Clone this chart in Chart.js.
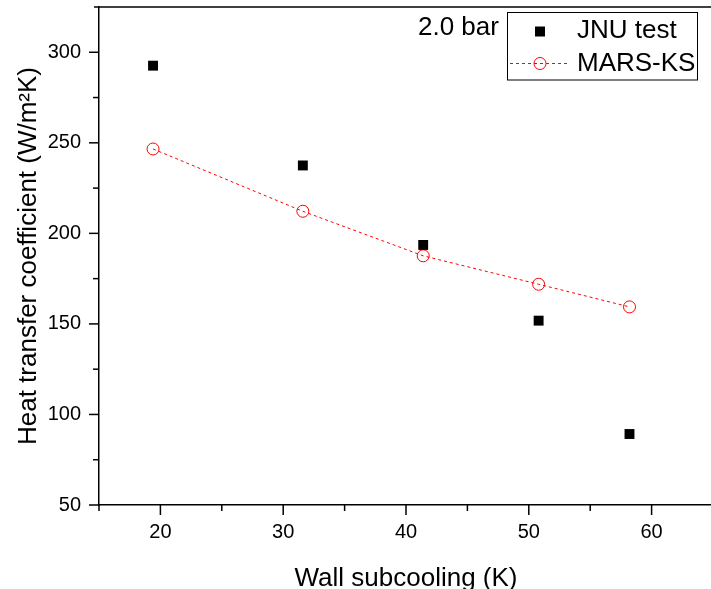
<!DOCTYPE html>
<html lang="en">
<head>
    <meta charset="UTF-8">
    <title>Heat transfer coefficient vs wall subcooling</title>
    <script src="https://cdn.jsdelivr.net/npm/chart.js"></script>
    <style>
        html, body { margin: 0; padding: 0; background: #fff; overflow: hidden; }
        .chart-box { position: relative; width: 720px; height: 610px; }
    </style>
</head>
<body>
    <div class="chart-box">
        <canvas id="htc-chart"></canvas>
    </div>

    <script>
        // values
        const subcooling = [19.4, 31.6, 41.4, 50.8, 58.2];
        const jnuTest = [292.6, 237.5, 193.6, 151.8, 89.2];
        const marsKs = [246.6, 212.2, 187.6, 171.9, 159.4];

        const xLabels = [20, 30, 40, 50, 60];
        const yLabels = [50, 100, 150, 200, 250, 300];

        const FONT = 'Arial, "Liberation Sans", sans-serif';

        // major/minor tick marks, top frame line, "2.0 bar" note and the boxed legend
        const framePlugin = {
            id: 'frame',
            afterDraw(chart) {
                const ctx = chart.ctx;
                const area = chart.chartArea;
                const xs = chart.scales.x;
                const ys = chart.scales.y;
                ctx.save();
                ctx.strokeStyle = '#000';
                ctx.lineWidth = 1.5;

                xs.ticks.forEach(t => {
                    const px = xs.getPixelForValue(t.value);
                    const len = xLabels.includes(t.value) ? 10 : 6;
                    ctx.beginPath();
                    ctx.moveTo(px, area.bottom);
                    ctx.lineTo(px, area.bottom + len);
                    ctx.stroke();
                });
                ys.ticks.forEach(t => {
                    if (t.value >= ys.max) return;
                    const py = ys.getPixelForValue(t.value);
                    const len = yLabels.includes(t.value) ? 10 : 6;
                    ctx.beginPath();
                    ctx.moveTo(area.left, py);
                    ctx.lineTo(area.left - len, py);
                    ctx.stroke();
                });

                // top frame
                ctx.beginPath();
                ctx.moveTo(area.left - 5, area.top);
                ctx.lineTo(area.right, area.top);
                ctx.stroke();

                ctx.fillStyle = '#000';
                ctx.font = '26px ' + FONT;
                ctx.textBaseline = 'middle';
                ctx.textAlign = 'left';
                ctx.fillText('2.0 bar', 418, 28);

                // legend
                ctx.lineWidth = 1;
                ctx.strokeRect(507.5, 12.5, 190, 67.5);
                const ds = chart.data.datasets;

                ctx.fillRect(535, 26.5, 10, 10);
                ctx.fillText(ds[0].label, 577, 31);

                ctx.strokeStyle = 'red';
                ctx.setLineDash([3, 3]);
                ctx.beginPath();
                ctx.moveTo(510, 63.5);
                ctx.lineTo(567, 63.5);
                ctx.stroke();
                ctx.setLineDash([]);
                ctx.beginPath();
                ctx.arc(540, 63.5, 6, 0, Math.PI * 2);
                ctx.stroke();
                ctx.fillText(ds[1].label, 577, 64);

                ctx.restore();
            }
        };

        const ctx = document.getElementById('htc-chart').getContext('2d');
        new Chart(ctx, {
            type: 'scatter',
            data: {
                datasets: [
                    {
                        label: 'JNU test',
                        data: subcooling.map((x, i) => ({ x: x, y: jnuTest[i] })),
                        pointStyle: 'rect',
                        pointRadius: 7,
                        backgroundColor: '#000',
                        borderColor: '#000',
                        borderWidth: 0,
                        showLine: false
                    },
                    {
                        label: 'MARS-KS',
                        data: subcooling.map((x, i) => ({ x: x, y: marsKs[i] })),
                        pointStyle: 'circle',
                        pointRadius: 6,
                        backgroundColor: 'rgba(0,0,0,0)',
                        borderColor: 'red',
                        borderWidth: 1,
                        showLine: true,
                        borderDash: [3, 3],
                        tension: 0
                    }
                ]
            },
            options: {
                responsive: true,
                maintainAspectRatio: false,
                animation: false,
                layout: { padding: { top: 7, right: 1, left: 0, bottom: 0 } },
                plugins: {
                    legend: { display: false },
                    tooltip: { enabled: false }
                },
                scales: {
                    x: {
                        type: 'linear',
                        min: 15,
                        max: 65,
                        afterFit: s => { s.height = 105; s.paddingLeft = 0; s.paddingRight = 0; },
                        grid: { display: false, drawTicks: true, tickLength: 10 },
                        border: { display: true, color: '#000', width: 1.5 },
                        ticks: {
                            stepSize: 5,
                            padding: 5,
                            color: '#000',
                            font: { family: FONT, size: 20 },
                            maxRotation: 0,
                            autoSkip: false,
                            callback: v => xLabels.includes(v) ? String(v) : ''
                        },
                        title: {
                            display: true,
                            text: 'Wall subcooling (K)',
                            color: '#000',
                            font: { family: FONT, size: 26 },
                            padding: { top: 0, bottom: 16 }
                        }
                    },
                    y: {
                        type: 'linear',
                        min: 50,
                        max: 325,
                        afterFit: s => { s.width = 99; s.paddingTop = 0; s.paddingBottom = 0; },
                        grid: { display: false, drawTicks: true, tickLength: 10 },
                        border: { display: true, color: '#000', width: 1.5 },
                        ticks: {
                            stepSize: 25,
                            padding: 8,
                            color: '#000',
                            font: { family: FONT, size: 20 },
                            autoSkip: false,
                            callback: v => yLabels.includes(v) ? String(v) : ''
                        },
                        title: {
                            display: true,
                            text: 'Heat transfer coefficient (W/m\u00B2K)',
                            color: '#000',
                            font: { family: FONT, size: 26 },
                            padding: { top: 13, bottom: 0 }
                        }
                    }
                }
            },
            plugins: [framePlugin]
        });
    </script>
</body>
</html>
